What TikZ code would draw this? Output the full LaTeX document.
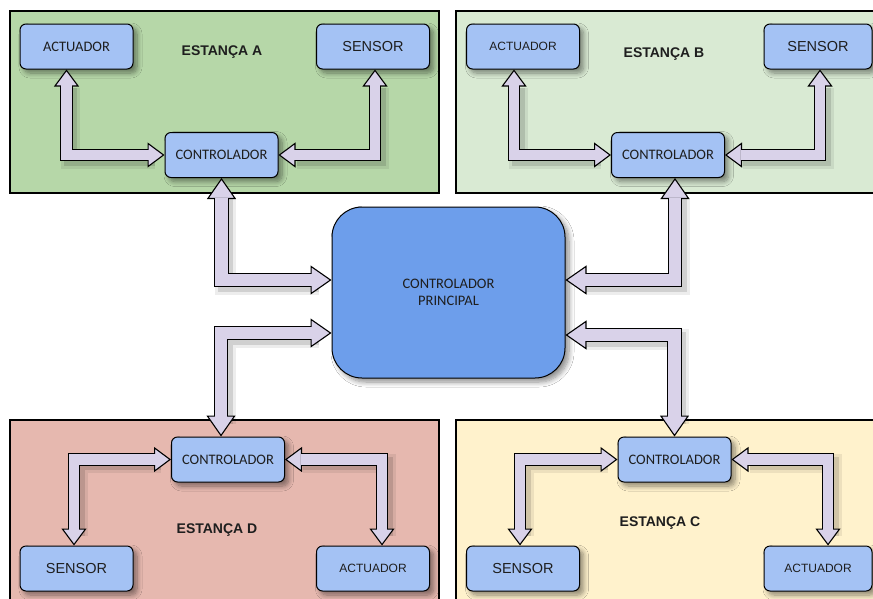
\documentclass[tikz,border=0pt]{standalone}
\usepackage{fontspec}
\setmainfont{Carlito}
\newfontfamily\arialfont{Liberation Sans}
\usetikzlibrary{arrows.meta,shadows.blur}

\definecolor{panelA}{HTML}{B6D7A8}
\definecolor{panelB}{HTML}{D9EAD3}
\definecolor{panelC}{HTML}{FFF2CC}
\definecolor{panelD}{HTML}{E6B8AF}
\definecolor{unitblue}{HTML}{A4C2F4}
\definecolor{mainblue}{HTML}{6D9EEB}
\definecolor{linkfill}{HTML}{D9D2E9}
\definecolor{ink}{HTML}{1E1E1E}

% layers per connector: two soft shadow strokes, black rim with heads, lavender core
\newcommand\conn[2]{%
  \draw[#1halo] #2;
  \draw[#1shade] #2;
  \draw[#1rim] #2;
  \draw[#1core] #2;}

\tikzset{
  panel/.style={draw=black, line width=1.4pt},
  boxshadow/.style={blur shadow={shadow xshift=4pt, shadow yshift=-4pt,
      shadow blur steps=8, shadow opacity=45, shadow blur radius=5pt}},
  unit/.style={draw=black, line width=1pt, fill=unitblue, rounded corners=6pt,
      minimum width=113pt, minimum height=45pt, inner sep=0pt, text=ink,
      font=\fontsize{14.5}{17}\selectfont, boxshadow},
  sans/.style={font=\arialfont\fontsize{14.5}{17}\selectfont},
  sanssmall/.style={font=\arialfont\fontsize{12}{14}\selectfont},
  title/.style={text=ink, font=\arialfont\bfseries\fontsize{14}{16}\selectfont},
  hub/.style={draw=black, line width=1pt, fill=mainblue, rounded corners=30pt,
      minimum width=233pt, minimum height=171pt, inner sep=0pt, align=center,
      text=ink, font=\fontsize{14.5}{17}\selectfont, boxshadow},
  smallshade/.style={draw=black, draw opacity=0.12, line width=13pt,
      shorten <=14pt, shorten >=14pt, transform canvas={shift={(4pt,-4pt)}}},
  smallhalo/.style={smallshade, line width=19pt, draw opacity=0.07},
  smallrim/.style={draw=black, line width=12.6pt,
      arrows={Triangle[open,fill=linkfill,length=17pt,width=25pt,line width=1.1pt]-Triangle[open,fill=linkfill,length=17pt,width=25pt,line width=1.1pt]}},
  smallcore/.style={draw=linkfill, line width=10.4pt,
      shorten <=15.5pt, shorten >=15.5pt},
  bigshade/.style={draw=black, draw opacity=0.12, line width=15pt,
      shorten <=17pt, shorten >=17pt, transform canvas={shift={(4pt,-4pt)}}},
  bighalo/.style={bigshade, line width=21pt, draw opacity=0.07},
  bigrim/.style={draw=black, line width=14.6pt,
      arrows={Triangle[open,fill=linkfill,length=21pt,width=29pt,line width=1.1pt]-Triangle[open,fill=linkfill,length=21pt,width=29pt,line width=1.1pt]}},
  bigcore/.style={draw=linkfill, line width=12.4pt,
      shorten <=19.5pt, shorten >=19.5pt},
}

\begin{document}
\begin{tikzpicture}[x=1pt, y=-1pt]
  \useasboundingbox (0,0) rectangle (873,598);
  \fill[white] (0,0) rectangle (873,598);
  \clip (0,0) rectangle (873,598);

  % station panels
  \draw[panel, fill=panelA] (10,11) rectangle (439,193);
  \draw[panel, fill=panelB] (456,11) rectangle (885,193);
  \draw[panel, fill=panelD] (10,420) rectangle (439,612);
  \draw[panel, fill=panelC] (456,420) rectangle (885,612);

  % central controller
  \node[hub] (main) at (448.5,292.5) {CONTROLADOR\\PRINCIPAL};

  % station A
  \node[unit] (actA) at (76.5,46.5) {ACTUADOR};
  \node[unit, sans] (senA) at (373,46.5) {SENSOR};
  \node[unit] (ctrlA) at (221.5,155) {CONTROLADOR};
  \node[title] at (222,52) {ESTANÇA A};

  % station B
  \node[unit, sanssmall] (actB) at (523,46.5) {ACTUADOR};
  \node[unit, sans, minimum width=108pt] (senB) at (818,46.5) {SENSOR};
  \node[unit] (ctrlB) at (668,155) {CONTROLADOR};
  \node[title] at (664,54) {ESTANÇA B};

  % station D
  \node[unit] (ctrlD) at (228,459.5) {CONTROLADOR};
  \node[unit, sans] (senD) at (76.5,568.5) {SENSOR};
  \node[unit, sanssmall] (actD) at (373,568.5) {ACTUADOR};
  \node[title] at (217,530) {ESTANÇA D};

  % station C
  \node[unit] (ctrlC) at (674.5,459.5) {CONTROLADOR};
  \node[unit, sans] (senC) at (523,568.5) {SENSOR};
  \node[unit, sanssmall, minimum width=108pt] (actC) at (818,568.5) {ACTUADOR};
  \node[title] at (660,523) {ESTANÇA C};

  % local links
  \conn{small}{([xshift=-10pt]actA.south) |- (ctrlA.west)}
  \conn{small}{([xshift=2pt]senA.south) |- (ctrlA.east)}
  \conn{small}{([xshift=-9pt]actB.south) |- (ctrlB.west)}
  \conn{small}{([xshift=2pt]senB.south) |- (ctrlB.east)}
  \conn{small}{(ctrlD.west) -| ([xshift=-2.5pt]senD.north)}
  \conn{small}{(ctrlD.east) -| ([xshift=9pt]actD.north)}
  \conn{small}{(ctrlC.west) -| ([xshift=-3pt]senC.north)}
  \conn{small}{(ctrlC.east) -| ([xshift=10pt]actC.north)}

  % links to the central controller
  \conn{big}{(ctrlA.south) |- ([yshift=12.5pt]main.west)}
  \conn{big}{([xshift=7pt]ctrlB.south) |- ([yshift=12.5pt]main.east)}
  \conn{big}{([yshift=-40.5pt]main.west) -| ([xshift=-7pt]ctrlD.north)}
  \conn{big}{([yshift=-42.5pt]main.east) -| (ctrlC.north)}
\end{tikzpicture}
\end{document}
